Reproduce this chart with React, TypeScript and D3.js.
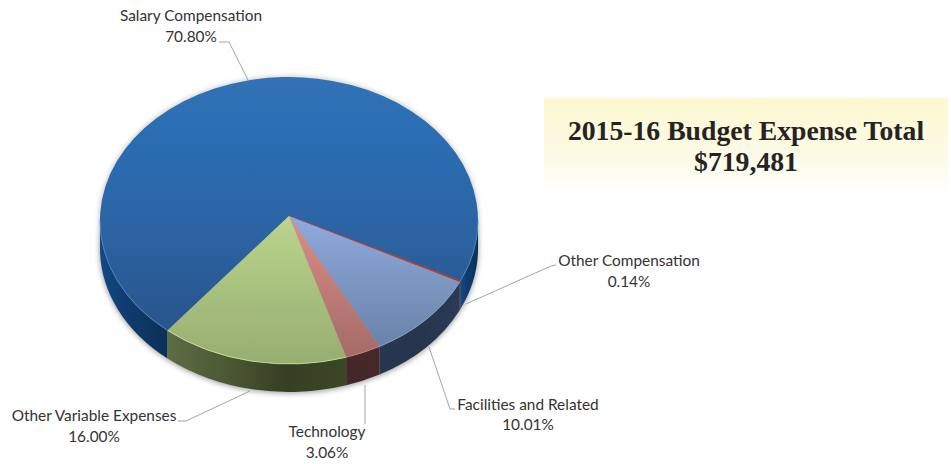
import React from "react";
import * as d3 from "d3";

const categories = ["Salary Compensation", "Other Compensation", "Facilities and Related", "Technology", "Other Variable Expenses"];
const shares = [70.8, 0.14, 10.01, 3.06, 16.0];
const shareLabels = ["70.80%", "0.14%", "10.01%", "3.06%", "16.00%"];
const titleLines = ["2015-16 Budget Expense Total", "$719,481"];

const W = 951, H = 464;
const cx = 289, cy = 220.5, rx = 189, ry = 143.5, apexX = 289, apexY = 216, depth = 28;
const start = (220 * Math.PI) / 180;
const TAU = Math.PI * 2;

const topIds = ["tSal", "tOth", "tFac", "tTec", "tVar"];
const wallIds = ["wSal", "wOth", "wFac", "wTec", "wVar"];
const rimColors = ["#4d8ad0", "#c0392b", "#8ba6d6", "#c98a85", "#d3e29f"];

const labelLayout = [
  { x: 191, y1: 21, y2: 42 },
  { x: 629, y1: 266, y2: 287 },
  { x: 528, y1: 410, y2: 430 },
  { x: 327, y1: 437, y2: 458 },
  { x: 94, y1: 421, y2: 442 },
];
const leaders = [
  [[219, 42], [229, 42], [248, 80]],
  [[556, 265], [551, 266], [466, 304]],
  [[455, 409], [450, 409], [429, 347]],
  [[365, 385], [365, 424]],
  [[178, 421], [186, 421], [250, 391]],
];

const pt = (a: number, dy = 0): [number, number] => [cx + rx * Math.sin(a), cy - ry * Math.cos(a) + dy];

function arcSeg(a0: number, a1: number, dy: number, reverse = false) {
  const to = reverse ? a0 : a1;
  const p = pt(to, dy);
  const large = Math.abs(a1 - a0) > Math.PI ? 1 : 0;
  const sweep = reverse ? 0 : 1;
  return `A${rx} ${ry} 0 ${large} ${sweep} ${p[0]} ${p[1]}`;
}

function wallPath(a0: number, a1: number) {
  const s = pt(a0), e = pt(a1, depth);
  return `M${s[0]} ${s[1]}${arcSeg(a0, a1, 0)}L${e[0]} ${e[1]}${arcSeg(a0, a1, depth, true)}Z`;
}

// Only the part of the rim between 90deg and 270deg faces the viewer.
function visibleRanges(a0: number, a1: number): [number, number][] {
  const out: [number, number][] = [];
  for (const k of [0, 1, 2]) {
    const lo = Math.PI / 2 + k * TAU, hi = (3 * Math.PI) / 2 + k * TAU;
    const a = Math.max(a0, lo), b = Math.min(a1, hi);
    if (b > a) out.push([a, b]);
  }
  return out;
}

const pieGen = d3.pie<number>().sort(null).startAngle(start).endAngle(start + TAU);
const arcs = pieGen(shares);

function Stops({ id, c, horizontal }: { id: string; c: string[]; horizontal?: boolean }) {
  return (
    <linearGradient id={id} x1="0" y1="0" x2={horizontal ? 1 : 0} y2={horizontal ? 0 : 1}>
      {c.map((col, i) => <stop key={i} offset={i / (c.length - 1)} stopColor={col} />)}
    </linearGradient>
  );
}

export default function App() {
  const labelFont = "Lato, 'Open Sans', sans-serif";
  return (
    <svg width={W} height={H} style={{ position: "absolute", left: 0, top: 0, background: "#fff" }}>
      <defs>
        <linearGradient id="tSal" gradientUnits="userSpaceOnUse" x1="0" y1="77" x2="0" y2="340">
          <stop offset="0" stopColor="#3272b6" />
          <stop offset="0.25" stopColor="#2a6db2" />
          <stop offset="0.6" stopColor="#2c63a2" />
          <stop offset="1" stopColor="#275389" />
        </linearGradient>
        <Stops id="tOth" c={["#c0392b", "#a8322a"]} />
        <linearGradient id="tFac" gradientUnits="userSpaceOnUse" x1="0" y1="216" x2="0" y2="346">
          <stop offset="0" stopColor="#8fabdc" />
          <stop offset="1" stopColor="#6a83a9" />
        </linearGradient>
        <linearGradient id="tTec" gradientUnits="userSpaceOnUse" x1="0" y1="216" x2="0" y2="358">
          <stop offset="0" stopColor="#dc8f89" />
          <stop offset="1" stopColor="#a56a67" />
        </linearGradient>
        <linearGradient id="tVar" gradientUnits="userSpaceOnUse" x1="0" y1="216" x2="0" y2="365">
          <stop offset="0" stopColor="#bad58c" />
          <stop offset="1" stopColor="#97ad71" />
        </linearGradient>
        <Stops id="wSal" c={["#134a85", "#0f3d6f", "#0d3764", "#0b2f57"]} horizontal />
        <Stops id="wOth" c={["#6b1f1a", "#501713"]} horizontal />
        <Stops id="wFac" c={["#28364f", "#27344d", "#2b3a55"]} horizontal />
        <Stops id="wTec" c={["#43272a", "#45282a"]} horizontal />
        <Stops id="wVar" c={["#5d6d42", "#4b5834", "#353f23", "#3c4726"]} horizontal />
        <linearGradient id="titleBg" x1="0" y1="0" x2="0" y2="1">
          <stop offset="0" stopColor="#fdf8d0" />
          <stop offset="0.55" stopColor="#fcfae4" />
          <stop offset="1" stopColor="#ffffff" />
        </linearGradient>
        <filter id="soft" x="-10%" y="-10%" width="120%" height="120%">
          <feGaussianBlur stdDeviation="2.5" />
        </filter>
      </defs>

      <rect x={544} y={98} width={404} height={98} fill="url(#titleBg)" />
      <g fontFamily="'Liberation Serif', serif" fontWeight="bold" fontSize={27.7} fill="#262322" textAnchor="middle">
        <text x={746} y={140}>{titleLines[0]}</text>
        <text x={746} y={171}>{titleLines[1]}</text>
      </g>

      <ellipse cx={cx} cy={cy + depth + 1} rx={rx + 1} ry={ry + 1} fill="#777" opacity={0.6} filter="url(#soft)" />
      <ellipse cx={cx} cy={cy} rx={rx + 1} ry={ry + 1} fill="#999" opacity={0.5} filter="url(#soft)" />

      {arcs.flatMap((d, i) =>
        visibleRanges(d.startAngle, d.endAngle).map(([a, b], j) => (
          <path key={`w${i}-${j}`} d={wallPath(a, b)} fill={`url(#${wallIds[i]})`} />
        ))
      )}

      {arcs.map((d, i) => {
        const s = pt(d.startAngle);
        return (
          <path
            key={`t${i}`}
            d={`M${apexX} ${apexY}L${s[0]} ${s[1]}${arcSeg(d.startAngle, d.endAngle, 0)}Z`}
            fill={`url(#${topIds[i]})`}
            stroke={i === 1 ? "#c0392b" : "none"}
            strokeWidth={i === 1 ? 1 : 0}
          />
        );
      })}

      {arcs.flatMap((d, i) =>
        visibleRanges(d.startAngle, d.endAngle).map(([a, b], j) => {
          const s = pt(a);
          return (
            <path
              key={`r${i}-${j}`}
              d={`M${s[0]} ${s[1]}${arcSeg(a, b, 0)}`}
              fill="none"
              stroke={rimColors[i]}
              strokeWidth={1}
              opacity={0.8}
            />
          );
        })
      )}

      {leaders.map((l, i) => (
        <path key={`l${i}`} d={d3.line()(l as [number, number][]) ?? ""} fill="none" stroke="#8c8c8c" strokeWidth={0.8} />
      ))}

      <g fontFamily={labelFont} fontSize={15.4} fill="#333" textAnchor="middle">
        {categories.map((c, i) => (
          <g key={c}>
            <text x={labelLayout[i].x} y={labelLayout[i].y1}>{c}</text>
            <text x={labelLayout[i].x} y={labelLayout[i].y2}>{shareLabels[i]}</text>
          </g>
        ))}
      </g>
    </svg>
  );
}
